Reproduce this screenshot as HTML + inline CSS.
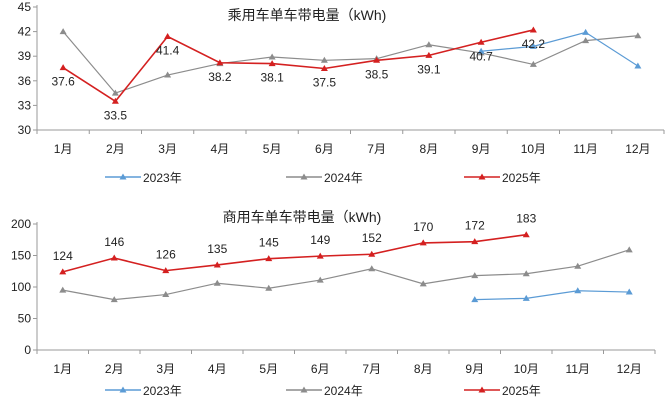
<!DOCTYPE html>
<html><head><meta charset="utf-8"><style>
html,body{margin:0;padding:0;background:#fff;width:669px;height:402px;overflow:hidden}
svg text{font-family:"Liberation Sans","Noto Sans CJK SC",sans-serif;fill:#222}
</style></head><body>
<svg id="c" width="669" height="402" xmlns="http://www.w3.org/2000/svg"></svg>
<script>
const months=["1月","2月","3月","4月","5月","6月","7月","8月","9月","10月","11月","12月"];
const pv2023=[null,null,null,null,null,null,null,null,39.6,40.2,41.9,37.8];
const pv2024=[42.0,34.5,36.7,38.1,38.9,38.5,38.7,40.4,39.4,38.0,40.9,41.5];
const pv2025=[37.6,33.5,41.4,38.2,38.1,37.5,38.5,39.1,40.7,42.2];
const pTicks=[30,33,36,39,42,45];
const cv2023=[null,null,null,null,null,null,null,null,80,82,94,92];
const cv2024=[95,80,88,106,98,111,129,105,118,121,133,159];
const cv2025=[124,146,126,135,145,149,152,170,172,183];
const cTicks=[0,50,100,150,200];
const NS="http://www.w3.org/2000/svg";
const svg=document.getElementById('c');
function mk(t,a,p){const e=document.createElementNS(NS,t);for(const k in a)e.setAttribute(k,a[k]);(p||svg).appendChild(e);return e;}
const colors={"2023":"#5b9bd5","2024":"#8c8c8c","2025":"#d42020"};
function tri(g,x,y,c){mk('polygon',{points:`${x},${y-3.5} ${x-3.5},${y+2.5} ${x+3.5},${y+2.5}`,fill:c},g);}
function chart(o){
  const g=mk('g',{});
  
  
  const L=37,R=o.R,band=(R-L)/12;
  const X=i=>L+band*(i+0.5);
  const Y=v=>o.y1+(o.max-v)/(o.max-o.min)*(o.y0-o.y1);
  const ax=mk('g',{},g);
  
  
  mk('line',{x1:L,y1:o.y1-2,x2:L,y2:o.y0,stroke:'#999'},ax);
  mk('line',{x1:L,y1:o.y0,x2:R,y2:o.y0,stroke:'#999'},ax);
  o.ticks.forEach(t=>{
    const y=Y(t);
    mk('line',{x1:L-4,y1:y,x2:L,y2:y,stroke:'#999'},ax);
    const tx=mk('text',{x:L-6,y:y+4,'text-anchor':'end','font-size':12},ax);tx.textContent=t;
    
    
  });
  for(let i=0;i<=12;i++)mk('line',{x1:L+band*i,y1:o.y0,x2:L+band*i,y2:o.y0+4,stroke:'#999'},ax);
  months.forEach((m,i)=>{
    const tx=mk('text',{x:X(i),y:o.y0+23,'text-anchor':'middle','font-size':12},ax);tx.textContent=m;
    
    
  });
  const tt=mk('text',{x:o.tx,y:o.ty,'text-anchor':'middle','font-size':14},g);tt.textContent=o.title;
  
  
  [["2024",o.s24],["2023",o.s23],["2025",o.s25]].forEach(([k,arr])=>{
    const s=mk('g',{},g);
    
    
    const pts=[];arr.forEach((v,i)=>{if(v!=null)pts.push([X(i),Y(v)]);});
    mk('polyline',{points:pts.map(p=>p.join(',')).join(' '),fill:'none',stroke:colors[k],'stroke-width':k==="2025"?1.6:1.2},s);
    pts.forEach(p=>tri(s,p[0],p[1],colors[k]));
  });
  o.s25.forEach((v,i)=>{
    const t=mk('text',{x:X(i),y:Y(v)+o.lo,'text-anchor':'middle','font-size':12},g);t.textContent=v;
    
    
  });
  [["2023",105],["2024",286],["2025",464]].forEach(([k,x])=>{
    const lg=mk('g',{},g);
    
    
    mk('line',{x1:x,y1:o.ly,x2:x+36,y2:o.ly,stroke:colors[k],'stroke-width':1.5},lg);
    tri(lg,x+18,o.ly,colors[k]);
    const t=mk('text',{x:x+38,y:o.ly+5,'font-size':12},lg);t.textContent=k+"年";
  });
}
chart({name:'passenger-chart',R:664,min:30,max:45,y1:7,y0:130,ticks:pTicks,s23:pv2023,s24:pv2024,s25:pv2025,title:'乘用车单车带电量（kWh)',tx:307,ty:20,lo:18,ly:177});
chart({name:'commercial-chart',R:655,min:0,max:200,y1:224,y0:350,ticks:cTicks,s23:cv2023,s24:cv2024,s25:cv2025,title:'商用车单车带电量（kWh)',tx:302,ty:222,lo:-12,ly:390});
</script>
</body></html>
